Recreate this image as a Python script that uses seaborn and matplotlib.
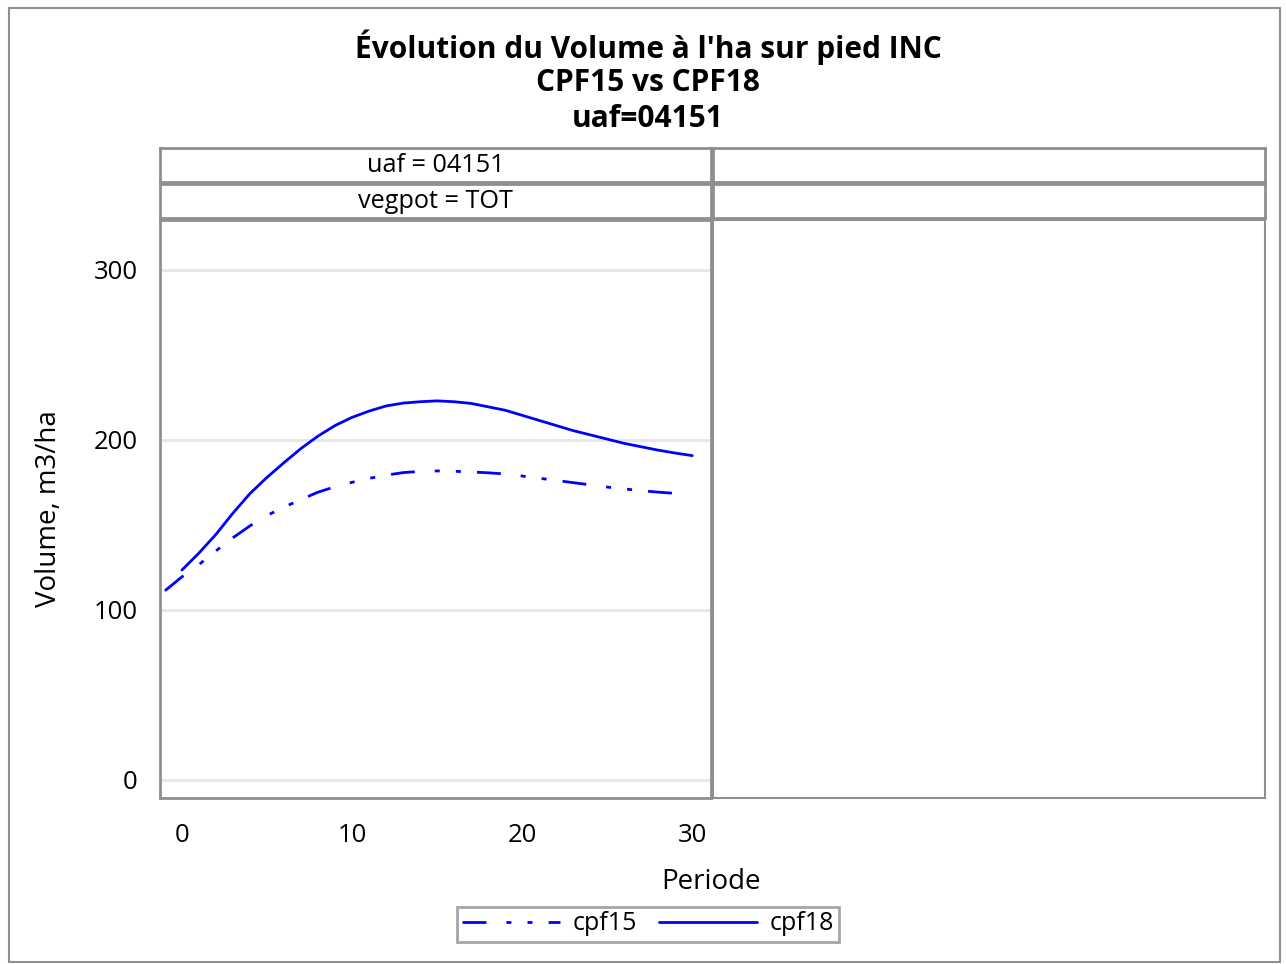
import numpy as np
import pandas as pd
import matplotlib
matplotlib.use("Agg")
import matplotlib.pyplot as plt
import seaborn as sns
from matplotlib.patches import Rectangle

# Data
periode_cpf15 = list(range(-1, 30))
volume_cpf15 = [111.3, 119.5, 126.7, 134.8, 142.5, 149.5, 155.6, 160.5, 165, 169.3, 172.5,
                175.1, 177.4, 179.3, 180.8, 181.5, 181.8, 181.6, 181.2, 180.7, 180,
                178.8, 177.5, 176.2, 174.9, 173.6, 172.3, 171.2, 170.2, 169.3, 168.6]

periode_cpf18 = list(range(0, 31))
volume_cpf18 = [123.5, 133.5, 144.5, 157, 168.5, 178, 186.7, 195, 202.3, 208.5, 213.3,
                217, 220, 221.7, 222.5, 223, 222.5, 221.5, 219.5, 217.5, 214.5,
                211.5, 208.5, 205.5, 203, 200.5, 198, 196, 194, 192.3, 190.8]

titles = ["Évolution du Volume à l'ha sur pied INC", "CPF15 vs CPF18", "uaf=04151"]
header_labels = ["uaf = 04151", "vegpot = TOT"]
y_ticks = [0, 100, 200, 300]
x_ticks = [0, 10, 20, 30]

df15 = pd.DataFrame({"Periode": periode_cpf15, "Volume": volume_cpf15})
df18 = pd.DataFrame({"Periode": periode_cpf18, "Volume": volume_cpf18})

sns.set_theme(style="white")
plt.rcParams["font.family"] = ["Open Sans", "DejaVu Sans"]

W, H = 1286, 964
fig = plt.figure(figsize=(W / 100, H / 100), dpi=100)
frame_col = "#8f8f8f"
grid_col = "#e6e6e6"


def box(x0, y0, x1, y1):
    # pixel coords (top-left origin) -> figure fraction [l, b, w, h]
    return [x0 / W, 1 - y1 / H, (x1 - x0) / W, (y1 - y0) / H]


# outer border
fig.patches.append(Rectangle((9 / W, 1 - 962 / H), 1271 / W, 954 / H, transform=fig.transFigure,
                             fill=False, edgecolor=frame_col, linewidth=1.5))

# titles
for i, t in enumerate(titles):
    fig.text(648 / W, 1 - (47 + 36 * i) / H, t, ha="center", va="center",
             fontsize=21.5, fontweight="bold", color="black")

# header cells
rows = [(148, 182), (184, 218)]
cols = [(160, 711), (713, 1265)]
for r, (y0, y1) in enumerate(rows):
    for c, (x0, x1) in enumerate(cols):
        hax = fig.add_axes(box(x0, y0, x1, y1))
        hax.set_xticks([])
        hax.set_yticks([])
        for s in hax.spines.values():
            s.set_color(frame_col)
            s.set_linewidth(2)
        if c == 0:
            hax.text(0.5, 0.5, header_labels[r], ha="center", va="center",
                     fontsize=18.2, color="black", transform=hax.transAxes)

# main panel
ax = fig.add_axes(box(160, 220, 711, 798))
sns.lineplot(data=df15, x="Periode", y="Volume", ax=ax, color="#0000ff", linewidth=2,
             label="cpf15")
sns.lineplot(data=df18, x="Periode", y="Volume", ax=ax, color="#0000ff", linewidth=2,
             label="cpf18")
ax.lines[0].set_dashes((8.6, 7.2, 1.8, 5.8, 1.8, 5.8))

ax.set_xlim(-1.29, 31.1)
ax.set_ylim(-10.6, 329.4)
ax.set_xticks(x_ticks)
ax.set_yticks(y_ticks)
ax.set_xlabel("")
ax.set_ylabel("")
ax.grid(axis="y", color=grid_col, linewidth=2)
ax.set_axisbelow(True)
ax.tick_params(axis="both", direction="out", length=10, width=2, color=frame_col,
               labelsize=18.5, labelcolor="black", pad=6)
ax.tick_params(axis="x", pad=8)
for s in ax.spines.values():
    s.set_color(frame_col)
    s.set_linewidth(2)
ax.get_legend().remove()

# empty right panel
ax2 = fig.add_axes(box(713, 220, 1265, 798))
ax2.set_xticks([])
ax2.set_yticks([])
for s in ax2.spines.values():
    s.set_color(frame_col)
    s.set_linewidth(1.5)

# axis labels
fig.text(49 / W, 1 - 509 / H, "Volume, m3/ha", rotation=90, ha="center", va="center",
         fontsize=20, color="black")
fig.text(711 / W, 1 - 882 / H, "Periode", ha="center", va="center", fontsize=20, color="black")

# legend
handles, labels = ax.get_legend_handles_labels()
leg = fig.legend(handles, labels, loc="center", bbox_to_anchor=(648 / W, 1 - 924 / H), ncol=2,
                 fontsize=18, frameon=True, fancybox=False, handlelength=3.9,
                 handletextpad=0.5, columnspacing=0.9, borderpad=0.2, labelcolor="black")
leg.get_frame().set_edgecolor(frame_col)
leg.get_frame().set_linewidth(2)

fig.savefig("out.png", dpi=100)
